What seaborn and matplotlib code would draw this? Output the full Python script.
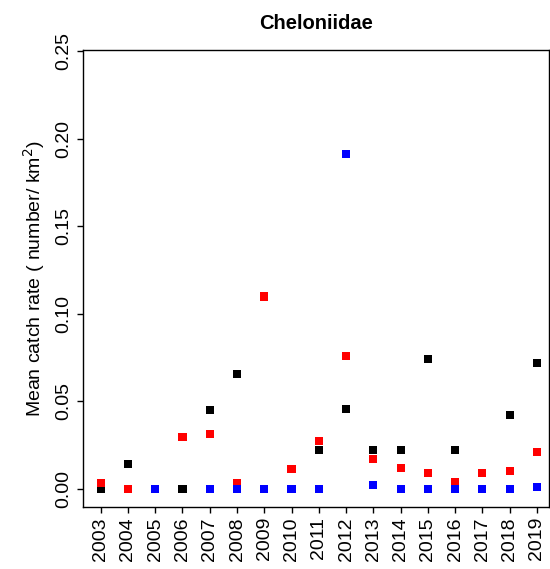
import numpy as np
import pandas as pd
import matplotlib
matplotlib.use("Agg")
import matplotlib.pyplot as plt
import seaborn as sns

years = list(range(2003, 2020))
black_vals = [0.0, 0.0143, 0.0, 0.0, 0.0453, 0.0655, 0.0, 0.0, 0.0223, 0.0459,
              0.0223, 0.0223, 0.0741, 0.0223, 0.0, 0.0421, 0.0720]
red_vals = [0.0033, 0.0, 0.0, 0.0299, 0.0312, 0.0036, 0.1100, 0.0112, 0.0274, 0.0760,
            0.0171, 0.0122, 0.0091, 0.0038, 0.0091, 0.0103, 0.0211]
blue_vals = [np.nan, np.nan, 0.0, np.nan, 0.0, 0.0, 0.0, 0.0, 0.0, 0.1916,
             0.0021, 0.0, 0.0, 0.0, 0.0, 0.0, 0.0011]
series_names = ["black", "red", "blue"]
series_colors = {"black": "#000000", "red": "#FF0000", "blue": "#0000FF"}
yticks = [0.00, 0.05, 0.10, 0.15, 0.20, 0.25]

df = pd.concat([
    pd.DataFrame({"year": years, "rate": vals, "series": name})
    for name, vals in zip(series_names, [black_vals, red_vals, blue_vals])
]).dropna()

sns.set_style("white")
plt.rcParams['font.family'] = ['Liberation Sans', 'DejaVu Sans']
plt.rcParams['text.color'] = 'black'
plt.rcParams['axes.labelcolor'] = 'black'
plt.rcParams['xtick.color'] = 'black'
plt.rcParams['ytick.color'] = 'black'

fig = plt.figure(figsize=(5.5, 5.69), dpi=100)
ax = fig.add_axes([0.1504, 0.1095, 0.848, 0.8026])

sns.scatterplot(data=df, x="year", y="rate", hue="series", palette=series_colors,
                marker="s", s=34, linewidth=0, legend=False, ax=ax)

ax.set_xlim(2002.34, 2019.45)
ax.set_ylim(-0.0101, 0.2508)
ax.set_xticks(years)
ax.set_xticklabels([str(y) for y in years], rotation=90, fontsize=14)
ax.set_yticks(yticks)
ax.set_yticklabels([f"{t:.2f}" for t in yticks], rotation=90, va="center", fontsize=14)
ax.tick_params(axis="both", direction="out", length=4.5, width=1, color="black",
               labelcolor="black", left=True, bottom=True, pad=3)
for sp in ax.spines.values():
    sp.set_color("black")
    sp.set_linewidth(1)

ax.set_xlabel("")
ax.set_ylabel("Mean catch rate ( number/ km$^2$)", fontsize=14, labelpad=6, color="black")
ax.set_title("Cheloniidae", fontsize=14.5, fontweight="bold", pad=15, color="black")

plt.savefig("out.png", dpi=100)
